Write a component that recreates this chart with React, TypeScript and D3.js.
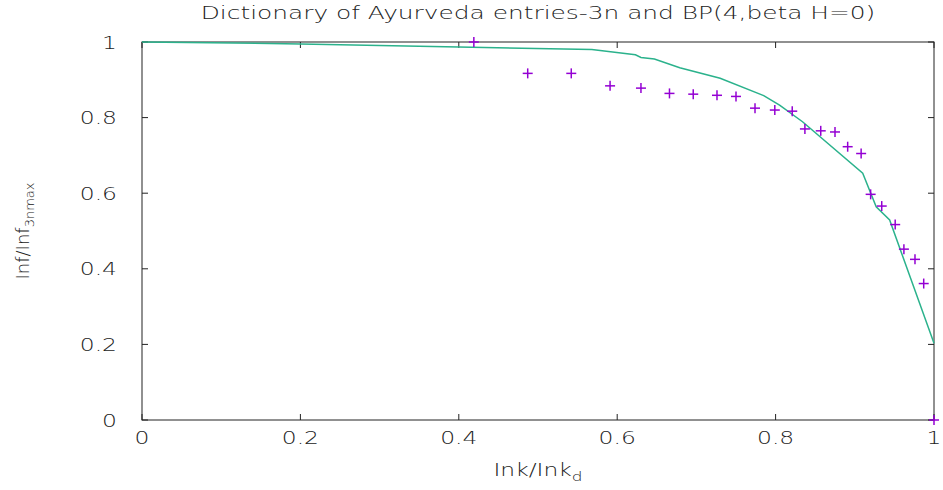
import React, { useEffect, useRef } from 'react';
import * as d3 from 'd3';

// purple "+" points (measured)
const pointX = [0.419, 0.487, 0.542, 0.591, 0.630, 0.666, 0.696, 0.726, 0.750, 0.774, 0.799, 0.821, 0.837, 0.857, 0.875, 0.891, 0.908, 0.920, 0.934, 0.951, 0.962, 0.976, 0.987, 1.0];
const pointY = [1.0, 0.917, 0.917, 0.884, 0.878, 0.864, 0.862, 0.859, 0.856, 0.825, 0.820, 0.817, 0.770, 0.765, 0.762, 0.723, 0.705, 0.597, 0.566, 0.517, 0.452, 0.425, 0.361, 0.0];

// green curve (BP model)
const lineX = [0, 0.2, 0.4, 0.568, 0.623, 0.630, 0.647, 0.679, 0.730, 0.785, 0.805, 0.834, 0.910, 0.927, 0.944, 1.0];
const lineY = [1.0, 0.995, 0.987, 0.980, 0.966, 0.959, 0.955, 0.932, 0.904, 0.858, 0.833, 0.789, 0.653, 0.564, 0.529, 0.203];

const xTicks = [0, 0.2, 0.4, 0.6, 0.8, 1];
const yTicks = [0, 0.2, 0.4, 0.6, 0.8, 1];

const title = 'Dictionary of Ayurveda entries-3n and BP(4,beta H=0)';

const App = () => {
  const svgRef = useRef<SVGSVGElement>(null);

  useEffect(() => {
    const width = 943;
    const height = 490;
    const margin = { top: 42, right: 9, bottom: 70, left: 142 };
    const innerWidth = width - margin.left - margin.right;
    const innerHeight = height - margin.top - margin.bottom;
    const font = 'DejaVu Sans, sans-serif';
    const weight = 200;
    const stretch = 'scale(1.3,1)';

    const svg = d3.select(svgRef.current);
    svg.selectAll('*').remove();

    const x = d3.scaleLinear().domain([0, 1]).range([0, innerWidth]);
    const y = d3.scaleLinear().domain([0, 1]).range([innerHeight, 0]);

    const g = svg.append('g').attr('transform', `translate(${margin.left},${margin.top})`);

    // ticks on all four sides, pointing inward
    const tick = 6;
    yTicks.forEach(v => {
      g.append('line').attr('x1', 0).attr('x2', tick).attr('y1', y(v)).attr('y2', y(v)).attr('stroke', '#222');
      g.append('line').attr('x1', innerWidth).attr('x2', innerWidth - tick).attr('y1', y(v)).attr('y2', y(v)).attr('stroke', '#222');
    });
    xTicks.forEach(v => {
      g.append('line').attr('x1', x(v)).attr('x2', x(v)).attr('y1', innerHeight).attr('y2', innerHeight - tick).attr('stroke', '#222');
      g.append('line').attr('x1', x(v)).attr('x2', x(v)).attr('y1', 0).attr('y2', tick).attr('stroke', '#222');
    });

    g.append('rect')
      .attr('x', 0).attr('y', 0)
      .attr('width', innerWidth).attr('height', innerHeight)
      .attr('fill', 'none').attr('stroke', '#222').attr('stroke-width', 1);

    // tick labels
    g.selectAll('.xlab')
      .data(xTicks)
      .enter()
      .append('g')
      .attr('transform', d => `translate(${x(d)},${innerHeight + 24}) ${stretch}`)
      .append('text')
      .attr('text-anchor', 'middle')
      .attr('font-family', font).attr('font-weight', weight).attr('font-size', 18).attr('fill', '#222')
      .text(d => String(d));

    g.selectAll('.ylab')
      .data(yTicks)
      .enter()
      .append('g')
      .attr('transform', d => `translate(-25,${y(d) + 6.5}) ${stretch}`)
      .append('text')
      .attr('text-anchor', 'end')
      .attr('font-family', font).attr('font-weight', weight).attr('font-size', 18).attr('fill', '#222')
      .text(d => String(d));

    // curve
    const lineData = lineX.map((v, i) => [v, lineY[i]] as [number, number]);
    g.append('path')
      .datum(lineData)
      .attr('fill', 'none')
      .attr('stroke', '#2bb28c')
      .attr('stroke-width', 1.5)
      .attr('d', d3.line<[number, number]>().x(d => x(d[0])).y(d => y(d[1])));

    // points
    const pts = pointX.map((v, i) => [v, pointY[i]] as [number, number]);
    const r = 5;
    const pg = g.append('g').attr('stroke', '#9400d3').attr('stroke-width', 1.5);
    pts.forEach(([px, py]) => {
      pg.append('line').attr('x1', x(px) - r).attr('x2', x(px) + r).attr('y1', y(py)).attr('y2', y(py));
      pg.append('line').attr('x1', x(px)).attr('x2', x(px)).attr('y1', y(py) - r).attr('y2', y(py) + r);
    });

    // title
    const tg = svg.append('g').attr('transform', `translate(${margin.left + innerWidth / 2},19) scale(1.38,1)`);
    tg.append('text')
      .attr('text-anchor', 'middle')
      .attr('font-family', font).attr('font-weight', weight).attr('font-size', 18).attr('fill', '#222')
      .text(title);

    // x label
    const xl = svg.append('g')
      .attr('transform', `translate(${margin.left + innerWidth / 2},476) ${stretch}`)
      .append('text')
      .attr('text-anchor', 'middle')
      .attr('font-family', font).attr('font-weight', weight).attr('font-size', 18).attr('fill', '#222');
    xl.append('tspan').text('Ink/Ink');
    xl.append('tspan').attr('font-size', 13).attr('dy', 5).text('d');

    // y label
    const yl = svg.append('text')
      .attr('transform', `translate(29,${margin.top + innerHeight / 2}) rotate(-90)`)
      .attr('text-anchor', 'middle')
      .attr('font-family', font).attr('font-weight', weight).attr('font-size', 18).attr('fill', '#222');
    yl.append('tspan').text('Inf/Inf');
    yl.append('tspan').attr('font-size', 13).attr('dy', 5).text('3nmax');
  }, []);

  return (
    <svg
      ref={svgRef}
      width={943}
      height={490}
      style={{ position: 'absolute', left: 0, top: 0, background: '#fff' }}
    />
  );
};

export default App;
